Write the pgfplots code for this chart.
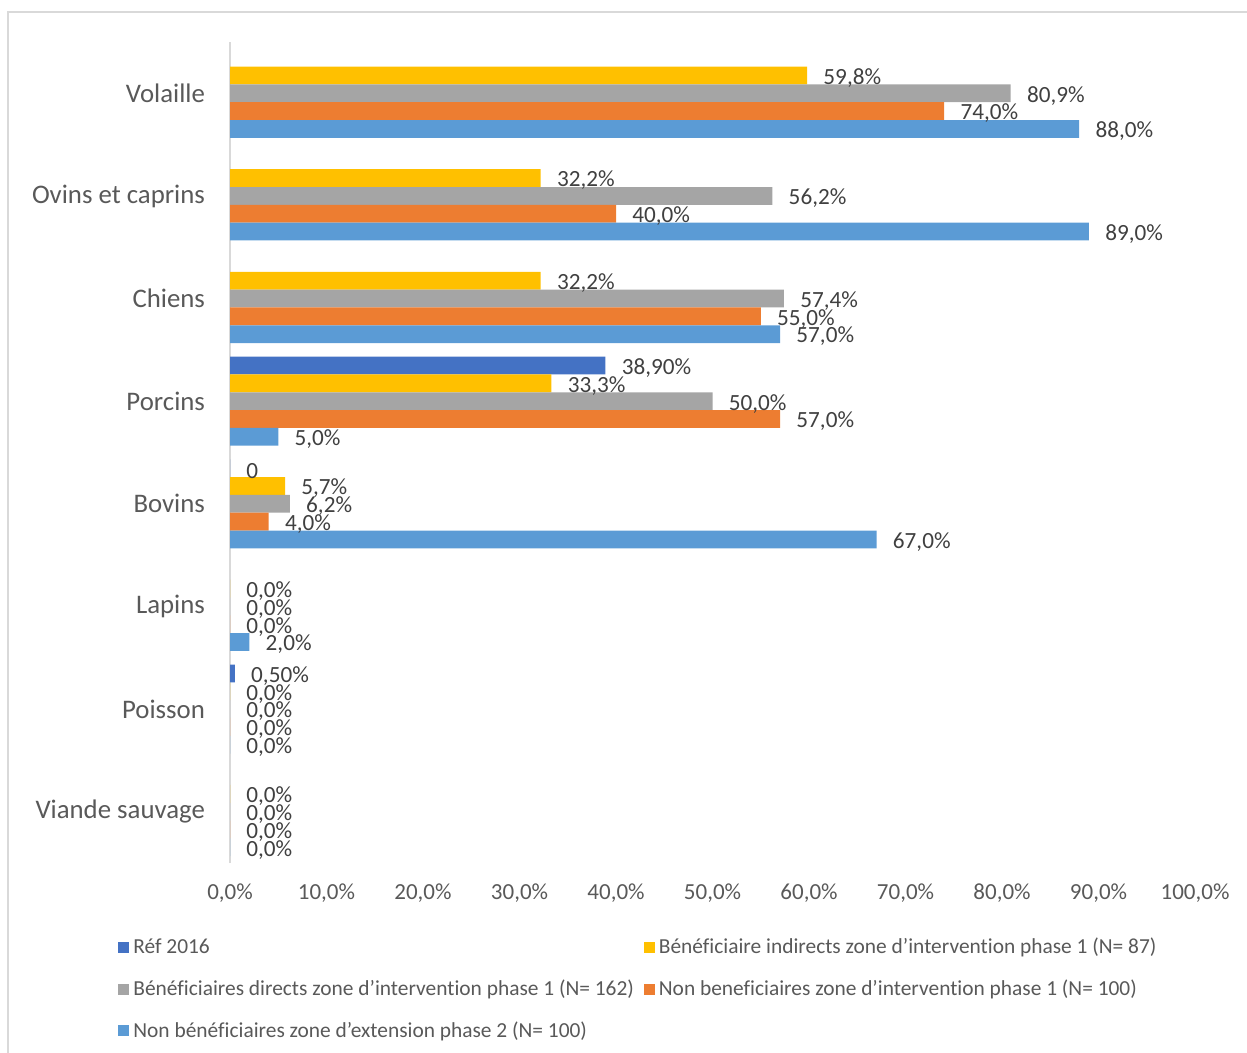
\documentclass[border=0pt]{standalone}
\usepackage{fontspec}
\setmainfont{Carlito}[Ligatures={TeX,NoCommon}]
\usepackage{pgfplots}
\pgfplotsset{compat=1.18}

\definecolor{refc}{HTML}{4472C4}
\definecolor{yelc}{HTML}{FFC000}
\definecolor{gryc}{HTML}{A5A5A5}
\definecolor{orgc}{HTML}{ED7D31}
\definecolor{lblc}{HTML}{5B9BD5}
\definecolor{txt}{HTML}{595959}
\definecolor{lab}{HTML}{404040}
\definecolor{frame}{HTML}{D9D9D9}

\begin{document}
\begin{tikzpicture}
  \path[use as bounding box] (0,0) rectangle (623.5pt,-526.5pt);
  \draw[frame, line width=1pt] (4pt,-6pt) rectangle (700pt,-600pt);

  \begin{axis}[
      at={(115pt,-431.5pt)}, anchor=south west,
      scale only axis,
      width=482.5pt, height=410.5pt,
      xmin=0, xmax=100,
      ymin=-0.5, ymax=7.5,
      axis x line*=bottom, axis y line*=left,
      x axis line style={draw=none},
      y axis line style={draw=frame, line width=1pt},
      major tick length=0pt,
      xtick={0,10,...,100},
      xticklabel={\pgfmathprintnumber[fixed,fixed zerofill,precision=1,use comma]{\tick}\%},
      /pgf/number format/assume math mode=true,
      xticklabel style={font=\fontsize{11.5}{13}\selectfont, text=txt, anchor=north, yshift=-7pt},
      ytick={0,...,7},
      yticklabels={Viande sauvage, Poisson, Lapins, Bovins, Porcins, Chiens, Ovins et caprins, Volaille},
      yticklabel style={font=\fontsize{13.4}{15}\selectfont, text=txt, anchor=east, xshift=-9pt},
      point meta=explicit symbolic,
      nodes near coords,
      every node near coord/.append style={anchor=west, inner sep=0pt, xshift=8pt, yshift=-1.2pt,
        font=\fontsize{11.6}{13}\selectfont, text=lab},
      legend columns=2,
      legend cell align=left,
      legend style={at={(-0.1161,-0.086)}, anchor=north west, draw=none,
        inner sep=0pt, row sep=7.55pt, font=\fontsize{10.7}{12.5}\selectfont, text=txt,
        /tikz/every even column/.append style={column sep=3pt}},
      legend image code/.code={\fill[#1, draw=none] (0pt,-2.75pt) rectangle (5.5pt,2.75pt);},
    ]

    \addplot[xbar, bar width=8.9pt, bar shift=17.8pt, fill=refc, draw=none,
      every node near coord/.append style={yshift=17.8pt}] coordinates {
      (38.9,4) [38,90\%]
      (0,3) [0]
      (0.5,1) [0,50\%]
    };
    \addlegendentry{Réf 2016}

    \addplot[xbar, bar width=8.9pt, bar shift=8.9pt, fill=yelc, draw=none,
      every node near coord/.append style={yshift=8.9pt}] coordinates {
      (59.8,7) [59,8\%]
      (32.2,6) [32,2\%]
      (32.2,5) [32,2\%]
      (33.3,4) [33,3\%]
      (5.7,3) [5,7\%]
      (0,2) [0,0\%]
      (0,1) [0,0\%]
      (0,0) [0,0\%]
    };
    \addlegendentry{Bénéficiaire indirects zone d'intervention phase 1 (N= 87)}

    \addplot[xbar, bar width=8.9pt, bar shift=0pt, fill=gryc, draw=none] coordinates {
      (80.9,7) [80,9\%]
      (56.2,6) [56,2\%]
      (57.4,5) [57,4\%]
      (50.0,4) [50,0\%]
      (6.2,3) [6,2\%]
      (0,2) [0,0\%]
      (0,1) [0,0\%]
      (0,0) [0,0\%]
    };
    \addlegendentry{Bénéficiaires directs zone d'intervention phase 1 (N= 162)}

    \addplot[xbar, bar width=8.9pt, bar shift=-8.9pt, fill=orgc, draw=none,
      every node near coord/.append style={yshift=-8.9pt}] coordinates {
      (74.0,7) [74,0\%]
      (40.0,6) [40,0\%]
      (55.0,5) [55,0\%]
      (57.0,4) [57,0\%]
      (4.0,3) [4,0\%]
      (0,2) [0,0\%]
      (0,1) [0,0\%]
      (0,0) [0,0\%]
    };
    \addlegendentry{Non beneficiaires zone d'intervention phase 1 (N= 100)}

    \addplot[xbar, bar width=8.9pt, bar shift=-17.8pt, fill=lblc, draw=none,
      every node near coord/.append style={yshift=-17.8pt}] coordinates {
      (88.0,7) [88,0\%]
      (89.0,6) [89,0\%]
      (57.0,5) [57,0\%]
      (5.0,4) [5,0\%]
      (67.0,3) [67,0\%]
      (2.0,2) [2,0\%]
      (0,1) [0,0\%]
      (0,0) [0,0\%]
    };
    \addlegendentry{Non bénéficiaires zone d'extension phase 2 (N= 100)}
  \end{axis}
\end{tikzpicture}
\end{document}
